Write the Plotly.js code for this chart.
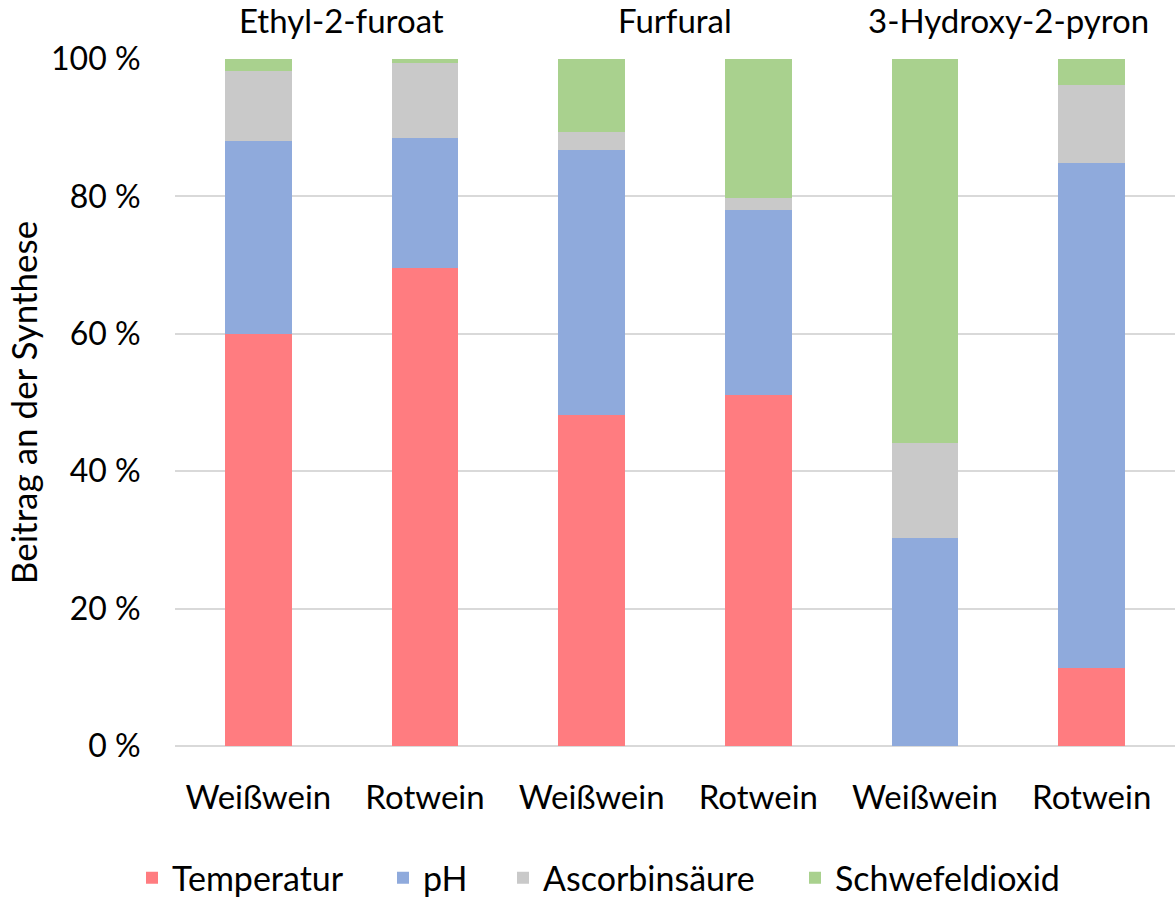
<!DOCTYPE html>
<html>
<head>
<meta charset="utf-8">
<script src="https://cdn.plot.ly/plotly-3.0.1.min.js"></script>
<style>html,body{margin:0;padding:0;background:#fff}#chart{width:1175px;height:898px}</style>
</head>
<body>
<div id="chart"></div>
<script>
const sampleLabels = ["Weißwein", "Rotwein", "Weißwein", "Rotwein", "Weißwein", "Rotwein"];
const groupLabels = ["Ethyl-2-furoat", "Furfural", "3-Hydroxy-2-pyron"];
const seriesNames = ["Temperatur", "pH", "Ascorbinsäure", "Schwefeldioxid"];
const temperatur = [60.0, 69.6, 48.2, 51.1, 0.0, 11.4];
const ph = [28.1, 18.9, 38.6, 26.9, 30.3, 73.5];
const ascorbinsaeure = [10.2, 10.9, 2.6, 1.8, 13.8, 11.3];
const schwefeldioxid = [1.7, 0.6, 10.6, 20.2, 55.9, 3.8];
const yTicks = [0, 20, 40, 60, 80, 100];
const yTickLabels = ["0 %", "20 %", "40 %", "60 %", "80 %", "100 %"];

const colors = ["#ff7c80", "#8faadc", "#c9c9c9", "#a9d18e"];
const values = [temperatur, ph, ascorbinsaeure, schwefeldioxid];
const xIdx = sampleLabels.map((_, i) => i);
const FONT = "Lato, 'Open Sans', sans-serif";
const legendIds = ["legend", "legend2", "legend3", "legend4"];
const legendLeft = [132, 383, 503, 795];

const traces = values.map((v, k) => ({
  type: "bar",
  name: seriesNames[k],
  legend: legendIds[k],
  x: xIdx,
  y: v,
  marker: {color: colors[k], line: {width: 0}},
  width: 0.4,
  hoverinfo: "name+y"
}));

const annotations = groupLabels.map((g, i) => ({
  text: g, x: 2 * i + 0.5, xref: "x", y: 1, yref: "paper",
  yshift: 39, yanchor: "middle", showarrow: false,
  font: {family: FONT, size: 33, color: "#000"}
}));

const layout = {
  width: 1175, height: 898,
  margin: {l: 175, r: 0, t: 59, b: 152},
  barmode: "stack",
  paper_bgcolor: "#fff", plot_bgcolor: "#fff",
  font: {family: FONT, color: "#000"},
  xaxis: {
    range: [-0.5, 5.5],
    tickvals: xIdx, ticktext: sampleLabels,
    tickfont: {family: FONT, size: 33, color: "#000"},
    ticks: "outside", ticklen: 22, tickcolor: "rgba(0,0,0,0)",
    showgrid: false, zeroline: false, showline: false, fixedrange: true,
    automargin: false
  },
  yaxis: {
    range: [0, 100],
    tickvals: yTicks, ticktext: yTickLabels,
    tickfont: {family: FONT, size: 32, color: "#000"},
    ticks: "outside", ticklen: 27, tickcolor: "rgba(0,0,0,0)",
    showgrid: true, gridcolor: "#d9d9d9", gridwidth: 2,
    zeroline: true, zerolinecolor: "#d9d9d9", zerolinewidth: 2,
    showline: false, automargin: false,
    title: {text: "Beitrag an der Synthese", font: {family: FONT, size: 35, color: "#000"}, standoff: 2}
  },
  annotations: annotations,
  showlegend: true
};

legendIds.forEach((id, k) => {
  layout[id] = {
    orientation: "h", x: legendLeft[k] / 1175, xref: "container", xanchor: "left",
    y: 0.022, yref: "container", yanchor: "middle",
    font: {family: FONT, size: 34, color: "#000"},
    itemwidth: 30, bgcolor: "rgba(0,0,0,0)", borderwidth: 0
  };
});

Plotly.newPlot("chart", traces, layout, {displayModeBar: false, staticPlot: true});
</script>
</body>
</html>
